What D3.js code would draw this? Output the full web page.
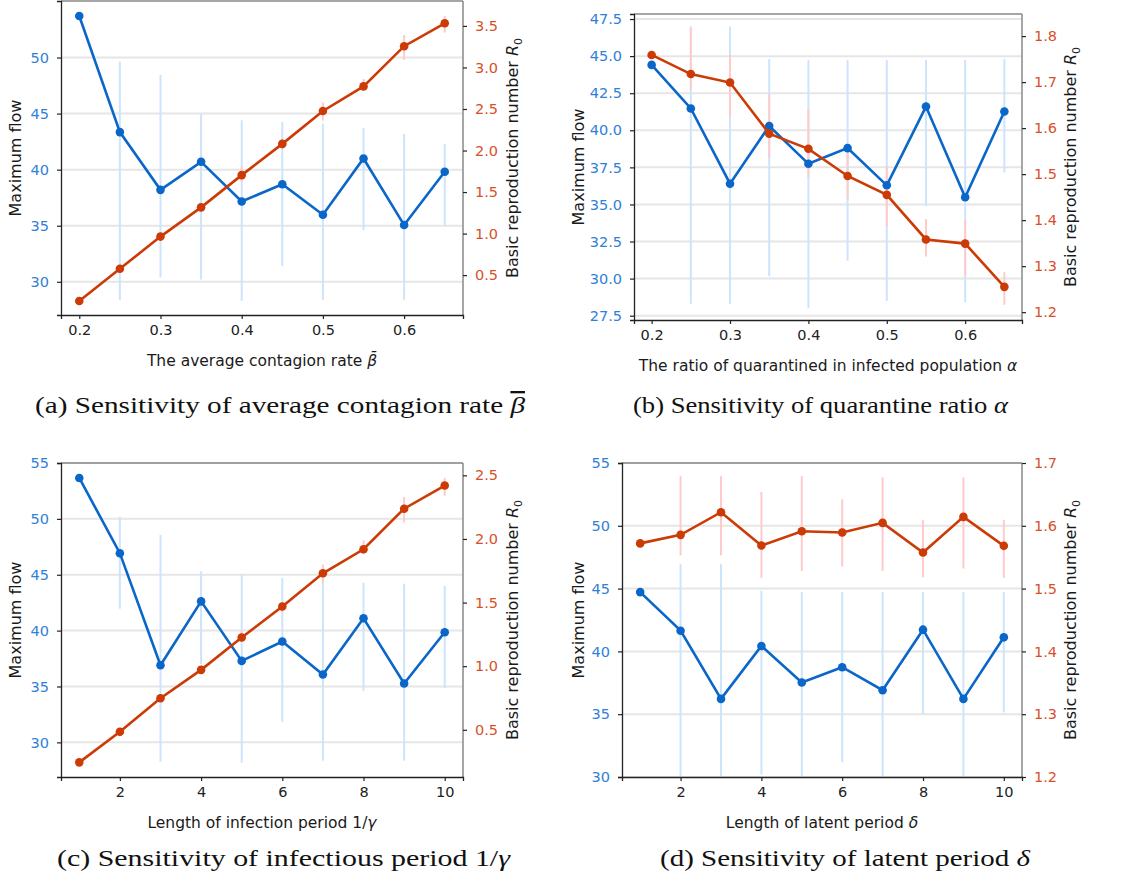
<!DOCTYPE html>
<html>
<head>
<meta charset="utf-8">
<script src="https://cdn.jsdelivr.net/npm/d3@7"></script>
<style>
  body { margin: 0; background: #fff; }
  svg { display: block; }
  .tick text { font-family: "DejaVu Sans", sans-serif; font-size: 14.5px; }
  .lbl { font-family: "DejaVu Sans", sans-serif; font-size: 16px; fill: #1a1a1a; }
  .xlbl { font-size: 15.5px; }
  .cap { font-family: "Liberation Serif", "DejaVu Serif", serif; font-size: 23px; fill: #111; }
</style>
</head>
<body>
<svg width="1123" height="881"></svg>
<script>
const xsRate = [0.2, 0.25, 0.3, 0.35, 0.4, 0.45, 0.5, 0.55, 0.6, 0.65];
const xsPeriod = [1, 2, 3, 4, 5, 6, 7, 8, 9, 10];

// (a) average contagion rate
const flowA = [53.7, 43.35, 38.2, 40.7, 37.16, 38.7, 35.98, 41.0, 35.06, 39.82];
const flowLoA = [null, 28.37, 30.39, 30.2, 28.3, 31.4, 28.4, 34.6, 28.4, 35.0];
const flowHiA = [null, 49.64, 48.45, 44.95, 44.4, 44.26, 44.1, 43.73, 43.2, 42.3];
const r0A = [0.188, 0.576, 0.964, 1.316, 1.704, 2.08, 2.476, 2.772, 3.256, 3.532];
const r0LoA = [null, 0.54, 0.93, 1.27, 1.62, 2.02, 2.36, 2.73, 3.09, 3.42];
const r0HiA = [null, 0.61, 1.0, 1.36, 1.8, 2.14, 2.58, 2.86, 3.39, 3.62];

// (b) quarantine ratio
const flowB = [44.41, 41.47, 36.4, 40.29, 37.74, 38.8, 36.29, 41.6, 35.49, 41.27];
const flowLoB = [null, 28.3, 28.3, 30.16, 28.0, 31.2, 28.5, 34.9, 28.4, 37.16];
const flowHiB = [null, 47.0, 47.0, 44.8, 44.73, 44.73, 44.73, 44.73, 44.73, 44.8];
const r0B = [1.759, 1.7175, 1.699, 1.588, 1.555, 1.496, 1.455, 1.358, 1.349, 1.255];
const r0LoB = [null, 1.683, 1.626, 1.536, 1.493, 1.445, 1.387, 1.321, 1.279, 1.216];
const r0HiB = [null, 1.817, 1.759, 1.673, 1.641, 1.549, 1.518, 1.402, 1.4, 1.287];

// (c) infectious period
const flowC = [53.66, 46.93, 36.9, 42.62, 37.29, 39.02, 36.07, 41.1, 35.27, 39.85];
const flowLoC = [null, 41.96, 28.27, 37.0, 28.18, 31.85, 28.36, 34.6, 28.36, 34.85];
const flowHiC = [null, 50.2, 48.57, 45.3, 44.97, 44.73, 44.5, 44.29, 44.2, 44.0];
const r0C = [0.244, 0.484, 0.748, 0.971, 1.225, 1.469, 1.73, 1.919, 2.238, 2.42];
const r0LoC = [null, 0.46, 0.72, 0.94, 1.19, 1.42, 1.65, 1.88, 2.13, 2.34];
const r0HiC = [null, 0.51, 0.78, 1.0, 1.28, 1.5, 1.8, 1.99, 2.33, 2.48];

// (d) latent period
const flowD = [44.72, 41.65, 36.22, 40.43, 37.52, 38.74, 36.91, 41.73, 36.22, 41.12];
const flowLoD = [null, 28.3, 28.3, 30.19, 28.3, 31.17, 28.3, 35.03, 28.3, 35.14];
const flowHiD = [null, 46.95, 46.95, 44.83, 44.72, 44.72, 44.72, 44.72, 44.72, 44.72];
const r0D = [1.572, 1.5856, 1.6216, 1.5686, 1.5914, 1.5893, 1.6047, 1.5575, 1.6142, 1.5681];
const r0LoD = [null, 1.553, 1.553, 1.517, 1.528, 1.535, 1.528, 1.518, 1.532, 1.517];
const r0HiD = [null, 1.679, 1.679, 1.654, 1.679, 1.642, 1.677, 1.609, 1.677, 1.609];

// [plain text, italic symbol]
const xLabels = [
  ["The average contagion rate ", "β\u0304"],
  ["The ratio of quarantined in infected population ", "α"],
  ["Length of infection period 1/", "γ"],
  ["Length of latent period ", "δ"]
];
// [plain text, italic symbol, overline?]
const captions = [
  ["(a) Sensitivity of average contagion rate ", "β", true],
  ["(b) Sensitivity of quarantine ratio ", "α", false],
  ["(c) Sensitivity of infectious period 1/", "γ", false],
  ["(d) Sensitivity of latent period ", "δ", false]
];

const blue = "#0a66c8", red = "#cc3a05";
const blueTick = "#2f80d8", redTick = "#d8502a";
const blueErr = "#cde4fd", redErr = "#ffcaca";

const panels = [
  { x: xsRate, flow: flowA, flo: flowLoA, fhi: flowHiA, r0: r0A, rlo: r0LoA, rhi: r0HiA,
    box: [61, 1, 463, 315], xd: [0.1775, 0.6725], ld: [27.04, 55.04], rd: [0.02, 3.8],
    xt: [0.2, 0.3, 0.4, 0.5, 0.6], xf: ".1f", lt: [30, 35, 40, 45, 50], lf: "d",
    rt: [0.5, 1, 1.5, 2, 2.5, 3, 3.5], rf: ".1f", cap: [35, 413, 490], lo: 40, ro: 55 },
  { x: xsRate, flow: flowB, flo: flowLoB, fhi: flowHiB, r0: r0B, rlo: r0LoB, rhi: r0HiB,
    box: [634, 14, 1022, 320], xd: [0.1775, 0.6725], ld: [27.21, 47.84], rd: [1.183, 1.848],
    xt: [0.2, 0.3, 0.4, 0.5, 0.6], xf: ".1f", lt: [27.5, 30, 32.5, 35, 37.5, 40, 42.5, 45, 47.5], lf: ".1f",
    rt: [1.2, 1.3, 1.4, 1.5, 1.6, 1.7, 1.8], rf: ".1f", cap: [633, 413, 375], lo: 50, ro: 54 },
  { x: xsPeriod, flow: flowC, flo: flowLoC, fhi: flowHiC, r0: r0C, rlo: r0LoC, rhi: r0HiC,
    box: [61, 463, 463, 777], xd: [0.55, 10.45], ld: [26.9, 55], rd: [0.129, 2.597],
    xt: [2, 4, 6, 8, 10], xf: "d", lt: [30, 35, 40, 45, 50, 55], lf: "d",
    rt: [0.5, 1, 1.5, 2, 2.5], rf: ".1f", cap: [57, 866, 453], lo: 40, ro: 55 },
  { x: xsPeriod, flow: flowD, flo: flowLoD, fhi: flowHiD, r0: r0D, rlo: r0LoD, rhi: r0HiD,
    box: [622, 463, 1022, 777], xd: [0.55, 10.45], ld: [30, 55], rd: [1.2, 1.7],
    xt: [2, 4, 6, 8, 10], xf: "d", lt: [30, 35, 40, 45, 50, 55], lf: "d",
    rt: [1.2, 1.3, 1.4, 1.5, 1.6, 1.7], rf: ".1f", cap: [660, 866, 370], lo: 38, ro: 54 }
];

const svg = d3.select("svg");

panels.forEach((p, i) => {
  const [x0, y0, x1, y1] = p.box;
  const g = svg.append("g");
  const x = d3.scaleLinear().domain(p.xd).range([x0, x1]);
  const yl = d3.scaleLinear().domain(p.ld).range([y1, y0]);
  const yr = d3.scaleLinear().domain(p.rd).range([y1, y0]);

  const clipId = "clip" + i;
  g.append("clipPath").attr("id", clipId)
    .append("rect").attr("x", x0).attr("y", y0).attr("width", x1 - x0).attr("height", y1 - y0);

  // grid lines at left ticks
  g.append("g").selectAll("line").data(p.lt).join("line")
    .attr("x1", x0).attr("x2", x1)
    .attr("y1", d => yl(d)).attr("y2", d => yl(d))
    .attr("stroke", "#e6e6e6").attr("stroke-width", 2);

  const plot = g.append("g").attr("clip-path", `url(#${clipId})`);
  const rows = p.x.map((xv, k) => ({ x: xv, f: p.flow[k], flo: p.flo[k], fhi: p.fhi[k],
    r: p.r0[k], rlo: p.rlo[k], rhi: p.rhi[k] }));

  plot.append("g").selectAll("line").data(rows.filter(d => d.flo !== null)).join("line")
    .attr("x1", d => x(d.x)).attr("x2", d => x(d.x))
    .attr("y1", d => yl(d.flo)).attr("y2", d => yl(d.fhi))
    .attr("stroke", blueErr).attr("stroke-width", 2);
  plot.append("g").selectAll("line").data(rows.filter(d => d.rlo !== null)).join("line")
    .attr("x1", d => x(d.x)).attr("x2", d => x(d.x))
    .attr("y1", d => yr(d.rlo)).attr("y2", d => yr(d.rhi))
    .attr("stroke", redErr).attr("stroke-width", 2);

  const lineL = d3.line().x(d => x(d.x)).y(d => yl(d.f));
  const lineR = d3.line().x(d => x(d.x)).y(d => yr(d.r));
  plot.append("path").datum(rows).attr("d", lineL)
    .attr("fill", "none").attr("stroke", blue).attr("stroke-width", 2.6);
  plot.append("g").selectAll("circle").data(rows).join("circle")
    .attr("cx", d => x(d.x)).attr("cy", d => yl(d.f)).attr("r", 4.3).attr("fill", blue);
  plot.append("path").datum(rows).attr("d", lineR)
    .attr("fill", "none").attr("stroke", red).attr("stroke-width", 2.6);
  plot.append("g").selectAll("circle").data(rows).join("circle")
    .attr("cx", d => x(d.x)).attr("cy", d => yr(d.r)).attr("r", 4.3).attr("fill", red);

  // frame
  g.append("line").attr("x1", x0).attr("x2", x1).attr("y1", y0).attr("y2", y0)
    .attr("stroke", "#888").attr("stroke-width", 1.5);
  g.append("line").attr("x1", x1).attr("x2", x1).attr("y1", y0).attr("y2", y1)
    .attr("stroke", "#888").attr("stroke-width", 1.5);

  const ax = g.append("g").attr("transform", `translate(0,${y1})`)
    .call(d3.axisBottom(x).tickValues(p.xt).tickFormat(d3.format(p.xf)).tickSize(4).tickPadding(6));
  const al = g.append("g").attr("transform", `translate(${x0},0)`)
    .call(d3.axisLeft(yl).tickValues(p.lt).tickFormat(d3.format(p.lf)).tickSize(4).tickPadding(8));
  const ar = g.append("g").attr("transform", `translate(${x1},0)`)
    .call(d3.axisRight(yr).tickValues(p.rt).tickFormat(d3.format(p.rf)).tickSize(4).tickPadding(8));
  ar.select(".domain").remove();
  [ax, al].forEach(a => a.select(".domain").attr("stroke", "#222").attr("stroke-width", 1.3));
  [ax, al, ar].forEach(a => a.selectAll(".tick line").attr("stroke", "#222").attr("stroke-width", 1.2));
  ax.selectAll(".tick text").attr("fill", "#222");
  al.selectAll(".tick text").attr("fill", blueTick);
  ar.selectAll(".tick text").attr("fill", redTick);

  const cx = (x0 + x1) / 2, cy = (y0 + y1) / 2;
  const xl = g.append("text").attr("class", "lbl xlbl").attr("text-anchor", "middle")
    .attr("x", cx).attr("y", y1 + 51);
  xl.append("tspan").text(xLabels[i][0]);
  xl.append("tspan").attr("font-style", "italic").text(xLabels[i][1]);

  g.append("text").attr("class", "lbl").attr("text-anchor", "middle")
    .attr("transform", `translate(${x0 - p.lo},${cy}) rotate(-90)`).text("Maximum flow");
  const rl = g.append("text").attr("class", "lbl").attr("text-anchor", "middle")
    .attr("transform", `translate(${x1 + p.ro},${cy}) rotate(-90)`);
  rl.append("tspan").text("Basic reproduction number ");
  rl.append("tspan").attr("font-style", "italic").text("R");
  rl.append("tspan").attr("font-size", "11px").attr("dy", 4).text("0");

  const [tx, ty, tw] = p.cap;
  const ct = svg.append("text").attr("class", "cap").attr("x", tx).attr("y", ty)
    .attr("textLength", tw).attr("lengthAdjust", "spacingAndGlyphs");
  ct.append("tspan").text(captions[i][0]);
  ct.append("tspan").attr("font-style", "italic")
    .style("text-decoration", captions[i][2] ? "overline" : null).text(captions[i][1]);
});
</script>
</body>
</html>
